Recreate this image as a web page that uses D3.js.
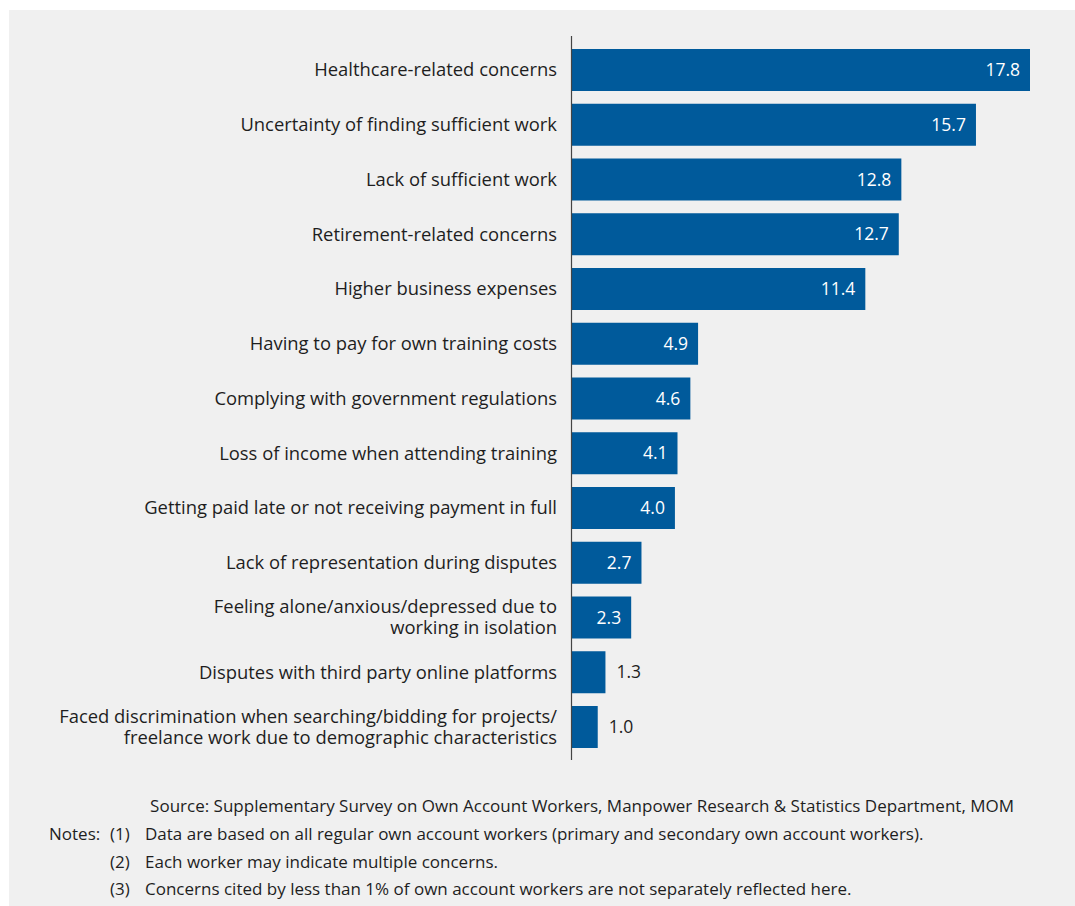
<!DOCTYPE html>
<html>
<head>
<meta charset="utf-8">
<script src="https://cdn.jsdelivr.net/npm/d3@7"></script>
<style>
  html, body { margin: 0; padding: 0; background: #ffffff; }
  svg { display: block; }
  text { font-family: "Open Sans", "Noto Sans", sans-serif; }
</style>
</head>
<body>
<svg id="chart" width="1075" height="906"></svg>
<script>
// Concerns cited by own account workers (per cent)
const categories = [
  ["Healthcare-related concerns"],
  ["Uncertainty of finding sufficient work"],
  ["Lack of sufficient work"],
  ["Retirement-related concerns"],
  ["Higher business expenses"],
  ["Having to pay for own training costs"],
  ["Complying with government regulations"],
  ["Loss of income when attending training"],
  ["Getting paid late or not receiving payment in full"],
  ["Lack of representation during disputes"],
  ["Feeling alone/anxious/depressed due to", "working in isolation"],
  ["Disputes with third party online platforms"],
  ["Faced discrimination when searching/bidding for projects/", "freelance work due to demographic characteristics"]
];
const values = [17.8, 15.7, 12.8, 12.7, 11.4, 4.9, 4.6, 4.1, 4.0, 2.7, 2.3, 1.3, 1.0];

const sourceText = "Source: Supplementary Survey on Own Account Workers, Manpower Research & Statistics Department, MOM";
const noteMarks = ["(1)", "(2)", "(3)"];
const noteTexts = [
  "Data are based on all regular own account workers (primary and secondary own account workers).",
  "Each worker may indicate multiple concerns.",
  "Concerns cited by less than 1% of own account workers are not separately reflected here."
];

const svg = d3.select("#chart");
const barColor = "#005a9b";
const textColor = "#1e1e1e";

// panel background
svg.append("rect")
  .attr("x", 9).attr("y", 10)
  .attr("width", 1075 - 9).attr("height", 906 - 10)
  .attr("fill", "#f0f0f0");

const ids = categories.map((d, i) => i);
const y = d3.scaleBand().domain(ids).range([49, 748]).paddingInner(0.233).paddingOuter(0);
const x = d3.scaleLinear().domain([0, 17.8]).range([572, 1030]);

// bars
svg.append("g").selectAll("rect")
  .data(values)
  .join("rect")
  .attr("x", x(0))
  .attr("y", (d, i) => y(i))
  .attr("width", d => x(d) - x(0))
  .attr("height", y.bandwidth())
  .attr("fill", barColor);

// category axis (line only)
svg.append("line")
  .attr("x1", 571.5).attr("x2", 571.5)
  .attr("y1", 36).attr("y2", 760)
  .attr("stroke", "#444").attr("stroke-width", 1.2);

// category labels
const lab = svg.append("g").selectAll("text")
  .data(categories)
  .join("text")
  .attr("text-anchor", "end")
  .attr("fill", textColor)
  .attr("font-size", 18.4);
lab.each(function(lines, i) {
  const cy = y(i) + y.bandwidth() / 2;
  const lh = 21;
  const start = cy - (lines.length - 1) * lh / 2;
  d3.select(this).selectAll("tspan")
    .data(lines)
    .join("tspan")
    .attr("x", 557)
    .attr("y", (l, j) => start + j * lh)
    .attr("dy", "0.35em")
    .text(l => l);
});

// value labels
svg.append("g").selectAll("text")
  .data(values)
  .join("text")
  .attr("x", d => d >= 2 ? x(d) - 10 : x(d) + 11)
  .attr("y", (d, i) => y(i) + y.bandwidth() / 2)
  .attr("dy", "0.35em")
  .attr("text-anchor", d => d >= 2 ? "end" : "start")
  .attr("fill", d => d >= 2 ? "#ffffff" : textColor)
  .attr("font-size", 17.5)
  .text(d => d.toFixed(1));

// source and notes
const foot = svg.append("g").attr("fill", textColor).attr("font-size", 17);
foot.append("text").attr("x", 1014).attr("y", 812).attr("text-anchor", "end").text(sourceText);
foot.append("text").attr("x", 49).attr("y", 840).text("Notes:");
foot.selectAll("text.mark").data(noteMarks).join("text").attr("class", "mark")
  .attr("x", 110).attr("y", (d, i) => 840 + i * 27.5).text(d => d);
foot.selectAll("text.note").data(noteTexts).join("text").attr("class", "note")
  .attr("x", 145).attr("y", (d, i) => 840 + i * 27.5).text(d => d);
</script>
</body>
</html>
